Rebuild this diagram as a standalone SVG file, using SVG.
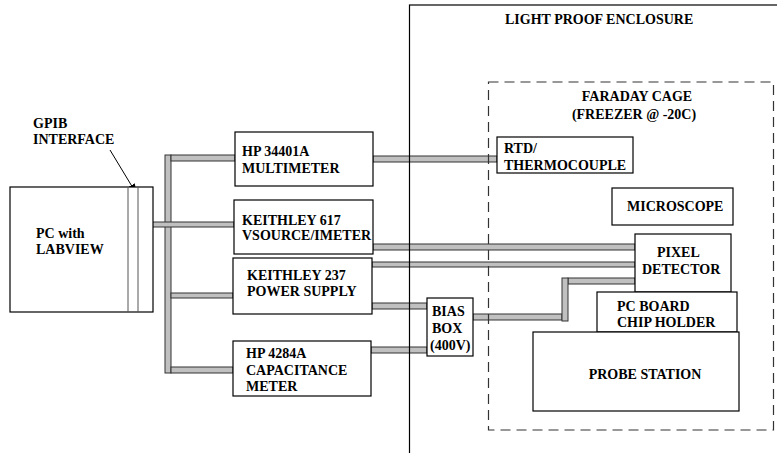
<svg xmlns="http://www.w3.org/2000/svg" width="777" height="453" viewBox="0 0 777 453">
<style>
.box{fill:#fff;stroke:#000;stroke-width:1.2}
.cable{fill:#c0c0c0;stroke:#333;stroke-width:1}
.t{font-family:"Liberation Serif","Times New Roman",serif;font-weight:bold;font-size:14px;fill:#000}
.encl{fill:none;stroke:#000;stroke-width:1.2}
.cage{fill:none;stroke:#333;stroke-width:1.2;stroke-dasharray:10 6}
</style>
<defs>
<marker id="ah" markerWidth="10" markerHeight="10" refX="9" refY="5" orient="auto" markerUnits="userSpaceOnUse">
<path d="M0,1 L10,5 L0,9 Z" fill="#000"/>
</marker>
</defs>
<rect x="0" y="0" width="777" height="453" fill="#fff"/>

<g id="connectors">
<rect class="cable" x="165" y="155" width="6" height="218"/>
<rect class="cable" x="171" y="155" width="64" height="6"/>
<rect class="cable" x="133" y="222" width="101" height="5"/>
<rect class="cable" x="171" y="293" width="62" height="5"/>
<rect class="cable" x="171" y="367" width="62" height="6"/>
<rect class="cable" x="373" y="156" width="124" height="6"/>
<rect class="cable" x="373" y="244" width="262" height="6"/>
<rect class="cable" x="372" y="262" width="263" height="5"/>
<rect class="cable" x="372" y="303" width="55" height="6"/>
<rect class="cable" x="371" y="347" width="56" height="6"/>
<rect class="cable" x="473" y="314" width="89" height="6"/>
<rect class="cable" x="568" y="278" width="67" height="6"/>
<rect class="cable" x="562" y="278" width="6" height="43"/>
<line x1="110" y1="150" x2="136" y2="193" stroke="#000" stroke-width="1" marker-end="url(#ah)"/>
</g>

<g id="enclosure">
<rect class="encl" x="409.5" y="5" width="400" height="460"/>
<text class="t" x="505" y="24">LIGHT PROOF ENCLOSURE</text>
</g>

<g id="faraday-cage">
<rect class="cage" x="488.5" y="82" width="285" height="348"/>
<text class="t" x="637" y="101" text-anchor="middle">FARADAY CAGE</text>
<text class="t" x="634" y="119" text-anchor="middle">(FREEZER @ -20C)</text>
</g>

<g id="pc">
<rect class="box" x="10" y="187" width="143" height="125"/>
<line x1="128" y1="187" x2="128" y2="312" stroke="#555" stroke-width="1"/>
<line x1="138" y1="187" x2="138" y2="312" stroke="#555" stroke-width="1"/>
<text class="t" x="36" y="238">PC with</text>
<text class="t" x="36" y="254">LABVIEW</text>
</g>

<g id="gpib-label">
<text class="t" x="33" y="128">GPIB</text>
<text class="t" x="33" y="144">INTERFACE</text>
</g>

<g id="multimeter">
<rect class="box" x="235" y="132" width="138" height="54"/>
<text class="t" x="242" y="156">HP 34401A</text>
<text class="t" x="242" y="173">MULTIMETER</text>
</g>

<g id="keithley617">
<rect class="box" x="234" y="200" width="139" height="54"/>
<text class="t" x="242" y="225">KEITHLEY 617</text>
<text class="t" x="242" y="240">VSOURCE/IMETER</text>
</g>

<g id="keithley237">
<rect class="box" x="233" y="258" width="139" height="56"/>
<text class="t" x="247" y="280">KEITHLEY 237</text>
<text class="t" x="247" y="296">POWER SUPPLY</text>
</g>

<g id="hp4284a">
<rect class="box" x="233" y="341" width="138" height="55"/>
<text class="t" x="246" y="358">HP 4284A</text>
<text class="t" x="246" y="375">CAPACITANCE</text>
<text class="t" x="246" y="391">METER</text>
</g>

<g id="biasbox">
<rect class="box" x="427" y="298" width="46" height="58"/>
<text class="t" x="432" y="316">BIAS</text>
<text class="t" x="432" y="333">BOX</text>
<text class="t" x="430" y="350">(400V)</text>
</g>

<g id="rtd">
<rect class="box" x="497" y="137" width="136" height="36"/>
<text class="t" x="504" y="153">RTD/</text>
<text class="t" x="504" y="170">THERMOCOUPLE</text>
</g>

<g id="microscope">
<rect class="box" x="612" y="188" width="121" height="37"/>
<text class="t" x="627" y="211">MICROSCOPE</text>
</g>

<g id="pixel-detector">
<rect class="box" x="635" y="234" width="96" height="58"/>
<text class="t" x="657" y="257">PIXEL</text>
<text class="t" x="642" y="274">DETECTOR</text>
</g>

<g id="chip-holder">
<rect class="box" x="597" y="292" width="140" height="40"/>
<text class="t" x="617" y="311">PC BOARD</text>
<text class="t" x="617" y="327">CHIP HOLDER</text>
</g>

<g id="probe-station">
<rect class="box" x="533" y="332" width="206" height="79"/>
<text class="t" x="645" y="379" text-anchor="middle">PROBE STATION</text>
</g>
</svg>
